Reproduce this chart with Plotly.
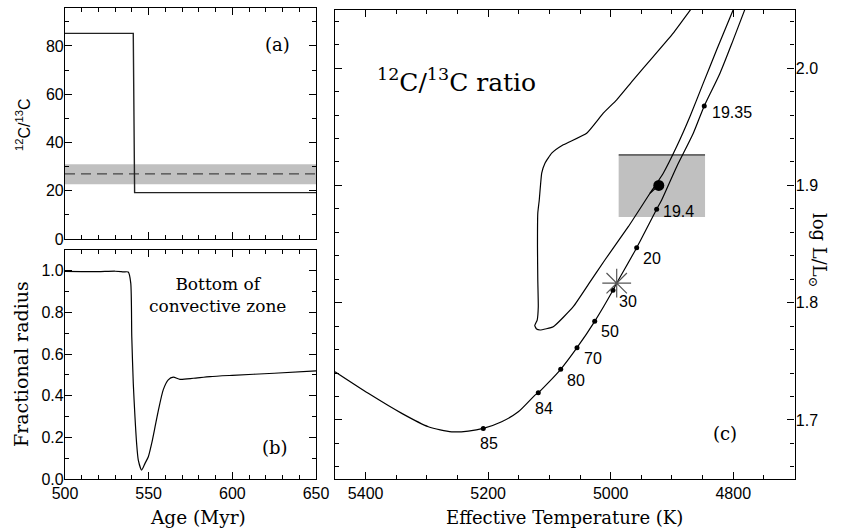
import plotly.graph_objects as go

# ---------------- data ----------------
# panel (a): surface 12C/13C vs age
age_a = [500, 540.8, 541.6, 650]
ratio_a = [85.2, 85.2, 19.2, 19.2]
obs_ratio = 27.0
obs_ratio_lo = 22.7
obs_ratio_hi = 31.0

# panel (b): bottom of convective zone (fractional radius) vs age
age_b = [500, 510, 520, 530, 535, 537.8, 539.3, 539.9, 540.8, 541.8, 542.8, 543.8,
         545.8, 547.8, 549.8, 551.8, 553.8, 555.8, 558.7, 561.7, 564.7, 568.7,
         576.7, 586.7, 600, 625, 650]
rad_b = [0.997, 0.996, 0.996, 0.998, 0.995, 0.994, 0.941, 0.684, 0.46, 0.30, 0.171, 0.091,
         0.043, 0.075, 0.107, 0.171, 0.25, 0.33, 0.428, 0.476, 0.489, 0.479,
         0.484, 0.492, 0.498, 0.508, 0.519]

# panel (c): HR diagram track (lower branch with markers)
track_T = [5450, 5395.7, 5341, 5297.7, 5259.5, 5232.4, 5208, 5178, 5150.8, 5123.6, 5118.2,
           5081.6, 5055, 5026.1, 4996.3, 4990.2, 4957.6, 4925, 4916.8, 4892.3, 4865.2,
           4847.3, 4821.6, 4800, 4780.8]
track_L = [1.7411, 1.7227, 1.7056, 1.6942, 1.6899, 1.6905, 1.6928, 1.6985, 1.707, 1.7212, 1.7232,
           1.7432, 1.7616, 1.7841, 1.8106, 1.8166, 1.8469, 1.8797, 1.8876, 1.916, 1.9445,
           1.9678, 1.9957, 2.0241, 2.0503]

# loop branch
loop_T = [4869, 4897.9, 4930.5, 4963.1, 4990.2, 5012.1, 5039.2, 5077.4, 5096.3, 5107.3,
          5112.6, 5116.6, 5119, 5119.5, 5119, 5118.2, 5120, 5124, 5121, 5115.4, 5093.7, 5061.1,
          5035.9, 5009.5, 4971, 4935.9, 4914.2, 4892.3, 4870.6, 4848.9, 4827, 4800]
loop_L = [2.0503, 2.0299, 2.0099, 1.99, 1.973, 1.9616, 1.9445, 1.9346, 1.9275, 1.9189,
          1.9104, 1.8876, 1.8763, 1.8478, 1.8194, 1.7966, 1.7852, 1.7805, 1.7775, 1.7767, 1.7795, 1.7966,
          1.816, 1.8364, 1.865, 1.8933, 1.9104, 1.9331, 1.9587, 1.9872, 2.0156, 2.0497]

# marked points on the track, labelled with 12C/13C
dot_T = [5208, 5118.2, 5081.6, 5055, 5026.1, 4996.3, 4957.6, 4925, 4847.3]
dot_L = [1.6928, 1.7232, 1.7432, 1.7616, 1.7841, 1.8106, 1.8469, 1.8797, 1.9678]
dot_labels = ["85", "84", "80", "70", "50", "30", "20", "19.4", "19.35"]

# observed star
star_T = [4921.5]
star_L = [1.900]
star_box_T = [4987, 4846]
star_box_L = [1.873, 1.926]
spur_T = [4935.9, 4921.5]
spur_L = [1.8933, 1.900]

# asterisk point
ast_T = [4990.2]
ast_L = [1.8166]

# label offsets (pixels) for the dot labels
label_dx = [6, 6, 15, 16, 15, 15, 15, 22, 28]
label_dy = [-15, -16, -11, -11, -10, -11, -11, -2, -7]

# ---------------- figure ----------------
W, H = 842, 529
def px(x):
    return x / W
def py(y):
    return 1 - y / H

fig = go.Figure()
line_k = dict(color="black", width=1.2)

# (a)
fig.add_trace(go.Scatter(x=[500, 650], y=[obs_ratio, obs_ratio], mode="lines",
                         line=dict(color="#444444", width=1.3, dash="10px,6px"),
                         xaxis="x", yaxis="y"))
fig.add_trace(go.Scatter(x=age_a, y=ratio_a, mode="lines",
                         line=dict(color="#222222", width=1.4), xaxis="x", yaxis="y"))
# (b)
fig.add_trace(go.Scatter(x=age_b, y=rad_b, mode="lines", line=line_k,
                         xaxis="x2", yaxis="y2", line_shape="spline",
                         line_smoothing=0.6))
# (c)
fig.add_trace(go.Scatter(x=track_T, y=track_L, mode="lines", line=line_k,
                         xaxis="x3", yaxis="y3", line_shape="spline", line_smoothing=0.7))
fig.add_trace(go.Scatter(x=loop_T, y=loop_L, mode="lines", line=line_k,
                         xaxis="x3", yaxis="y3", line_shape="spline", line_smoothing=0.4))
fig.add_trace(go.Scatter(x=spur_T, y=spur_L, mode="lines", line=line_k,
                         xaxis="x3", yaxis="y3"))
fig.add_trace(go.Scatter(x=dot_T, y=dot_L, mode="markers",
                         marker=dict(color="black", size=5), xaxis="x3", yaxis="y3"))
fig.add_trace(go.Scatter(x=star_T, y=star_L, mode="markers",
                         marker=dict(color="black", size=11), xaxis="x3", yaxis="y3"))
fig.add_trace(go.Scatter(x=ast_T, y=ast_L, mode="markers",
                         marker=dict(symbol="asterisk-open", size=24, color="#555555",
                                     line=dict(color="#555555", width=1.2)),
                         xaxis="x3", yaxis="y3"))

shapes = [
    dict(type="rect", xref="x", yref="y", x0=500, x1=650, y0=obs_ratio_lo, y1=obs_ratio_hi,
         fillcolor="#c0c0c0", line=dict(width=0), layer="below"),
    dict(type="rect", xref="x3", yref="y3", x0=star_box_T[0], x1=star_box_T[1],
         y0=star_box_L[0], y1=star_box_L[1], fillcolor="#c0c0c0", line=dict(width=0),
         layer="below"),
    dict(type="line", xref="x3", yref="y3", x0=star_box_T[0], x1=star_box_T[1],
         y0=star_box_L[1], y1=star_box_L[1], line=dict(color="black", width=1)),
]

tickfont = dict(family="Liberation Sans", size=16, color="black")
serif = "DejaVu Serif"

def ax(domain, rng, dtick, minor_dtick, showlabels=True, **kw):
    d = dict(domain=domain, range=rng, dtick=dtick, ticks="inside", ticklen=7,
             tickwidth=1, tickcolor="black", showline=True, linecolor="black",
             linewidth=1.2, mirror="allticks", showgrid=False, zeroline=False,
             showticklabels=showlabels, tickfont=tickfont, automargin=False,
             minor=dict(dtick=minor_dtick, ticks="inside", ticklen=4, tickcolor="black",
                        showgrid=False))
    d.update(kw)
    return d

left_dom = [px(65), px(316)]
c_dom = [px(335), px(794.5)]

annotations = []
for t, l, s, dx, dy in zip(dot_T, dot_L, dot_labels, label_dx, label_dy):
    annotations.append(dict(x=t, y=l, xref="x3", yref="y3", text=s, showarrow=False,
                            xshift=dx, yshift=dy, xanchor="center", yanchor="middle",
                            font=dict(family="Liberation Sans", size=16, color="black")))

def ann(x, y, text, size, family=serif, angle=0):
    annotations.append(dict(x=px(x), y=py(y), xref="paper", yref="paper", text=text,
                            showarrow=False, textangle=angle, xanchor="center",
                            yanchor="middle",
                            font=dict(family=family, size=size, color="black")))

ann(277, 44, "(a)", 18)
ann(275, 447, "(b)", 18)
ann(725, 433, "(c)", 18)
ann(218, 295, "Bottom of<br>convective zone", 17)
ann(456, 80, "<sup>12</sup>C/<sup>13</sup>C ratio", 25)
ann(23, 125, "<sup>12</sup>C/<sup>13</sup>C", 16, family="Liberation Sans", angle=-90)
ann(21, 364, "Fractional radius", 19, angle=-90)
ann(198, 517, "Age (Myr)", 18.5)
ann(564, 517, "Effective Temperature (K)", 18)
ann(818, 250, "log L/L<sub>⊙</sub>", 18, angle=90)

fig.update_layout(
    width=W, height=H, margin=dict(l=0, r=0, t=0, b=0),
    paper_bgcolor="white", plot_bgcolor="white", showlegend=False,
    xaxis=ax(left_dom, [500, 650], 50, 10, showlabels=False, anchor="y"),
    yaxis=ax([py(239), py(8)], [0, 95.7], 20, 10, anchor="x", ticklabelstandoff=-3),
    xaxis2=ax(left_dom, [500, 650], 50, 10, anchor="y2"),
    yaxis2=ax([py(479), py(250)], [0, 1.1], 0.2, 0.1, anchor="x2", tickformat=".1f",
              ticklabelstandoff=-3),
    xaxis3=ax(c_dom, [5450, 4700], 200, 50, anchor="y3", tick0=4800),
    yaxis3=ax([py(478.6), py(9.5)], [1.65, 2.05], 0.1, 0.02, anchor="x3", side="right",
              tickformat=".1f", ticklabelstandoff=-3),
    shapes=shapes, annotations=annotations,
)

fig.write_html("out.html")
